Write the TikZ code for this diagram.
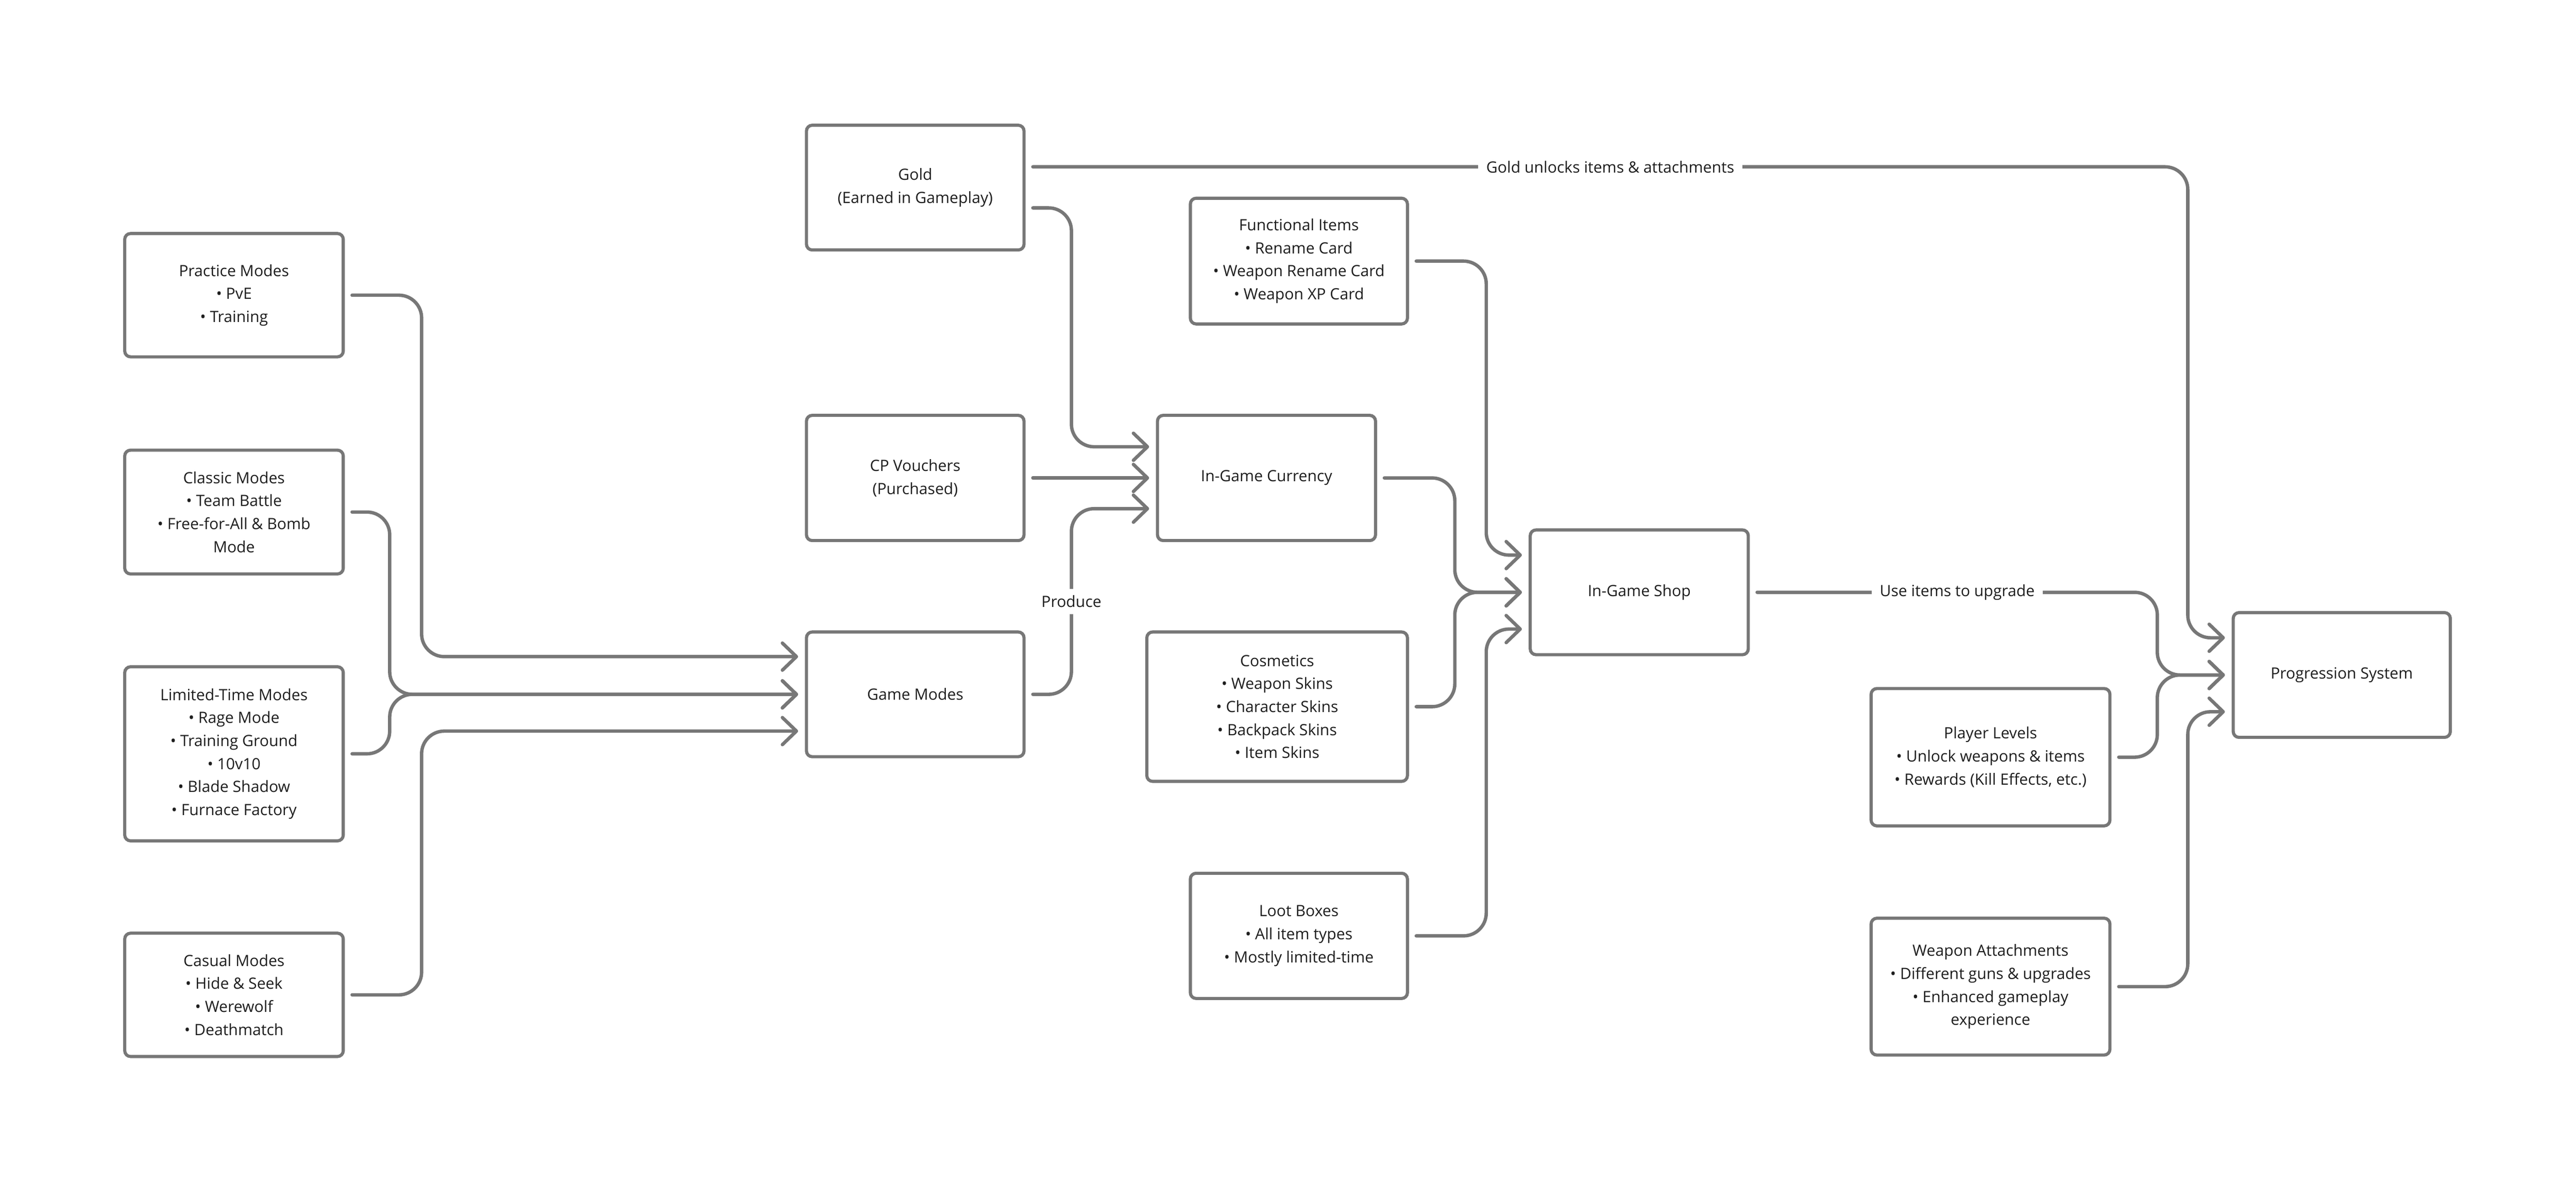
\documentclass[tikz,border=0pt]{standalone}
\usepackage{fontspec}
\setmainfont{Open Sans}
\usetikzlibrary{arrows.meta,calc}
\definecolor{lnc}{HTML}{777777}
\definecolor{txc}{HTML}{1E1E1E}
\begin{document}
\begin{tikzpicture}[x=1cm,y=-1cm,
  box/.style={draw=lnc, line width=0.065cm, rounded corners=0.12cm, fill=white,
    align=center, text=txc, inner sep=0pt,
    font=\fontsize{9.15pt}{13.55pt}\selectfont},
  conn/.style={draw=lnc, line width=0.07cm, rounded corners=0.47cm, line cap=round,
    -{Straight Barb[length=0.29cm, width=0.56cm, round]}},
  lbl/.style={fill=white, text=txc, inner xsep=0.17cm, inner ysep=0.14cm, rounded corners=0pt,
    font=\fontsize{9.15pt}{13.55pt}\selectfont}]
\useasboundingbox (0,0) rectangle (53.28,24.46);
% boxes
\node[box, minimum width=4.52cm, minimum height=2.55cm] (practice) at (4.84,6.105) {Practice Modes\\• PvE\\• Training};
\node[box, minimum width=4.52cm, minimum height=2.56cm] (classic) at (4.84,10.59) {Classic Modes\\• Team Battle\\• Free-for-All \& Bomb\\Mode};
\node[box, minimum width=4.52cm, minimum height=3.60cm] (limited) at (4.84,15.59) {Limited-Time Modes\\• Rage Mode\\• Training Ground\\• 10v10\\• Blade Shadow\\• Furnace Factory};
\node[box, minimum width=4.52cm, minimum height=2.55cm] (casual) at (4.84,20.575) {Casual Modes\\• Hide \& Seek\\• Werewolf\\• Deathmatch};
\node[box, minimum width=4.50cm, minimum height=2.58cm] (gold) at (18.93,3.88) {Gold\\(Earned in Gameplay)};
\node[box, minimum width=4.50cm, minimum height=2.59cm] (cp) at (18.93,9.885) {CP Vouchers\\(Purchased)};
\node[box, minimum width=4.50cm, minimum height=2.58cm] (gamemodes) at (18.93,14.36) {Game Modes};
\node[box, minimum width=4.49cm, minimum height=2.60cm] (functional) at (26.865,5.40) {Functional Items\\• Rename Card\\• Weapon Rename Card\\• Weapon XP Card};
\node[box, minimum width=4.51cm, minimum height=2.59cm] (currency) at (26.195,9.885) {In-Game Currency};
\node[box, minimum width=5.39cm, minimum height=3.09cm] (cosmetics) at (26.415,14.615) {Cosmetics\\• Weapon Skins\\• Character Skins\\• Backpack Skins\\• Item Skins};
\node[box, minimum width=4.49cm, minimum height=2.59cm] (loot) at (26.865,19.355) {Loot Boxes\\• All item types\\• Mostly limited-time};
\node[box, minimum width=4.51cm, minimum height=2.58cm] (shop) at (33.905,12.25) {In-Game Shop};
\node[box, minimum width=4.94cm, minimum height=2.84cm] (player) at (41.17,15.66) {Player Levels\\• Unlock weapons \& items\\• Rewards (Kill Effects, etc.)};
\node[box, minimum width=4.94cm, minimum height=2.83cm] (attach) at (41.17,20.405) {Weapon Attachments\\• Different guns \& upgrades\\• Enhanced gameplay\\experience};
\node[box, minimum width=4.49cm, minimum height=2.58cm] (prog) at (48.435,13.96) {Progression System};
% vertical guide lines
\coordinate (vL1) at (8.72,0);
\coordinate (vL2) at (8.06,0);
\coordinate (vG) at (22.16,0);
\coordinate (vS1) at (30.74,0);
\coordinate (vS2) at (30.09,0);
\coordinate (vP1) at (44.62,0);
\coordinate (vP2) at (45.25,0);
% start points
\coordinate (sPr) at ($(practice.east)+(0.15,0)$);
\coordinate (sCl) at ($(classic.east)+(0.15,0)$);
\coordinate (sLi) at ($(limited.east)+(0.15,0)$);
\coordinate (sCa) at ($(casual.east)+(0.15,0)$);
\coordinate (sGoA) at ($(gold.east)+(0.15,-0.43)$);
\coordinate (sGoB) at ($(gold.east)+(0.15,0.42)$);
\coordinate (sCp) at ($(cp.east)+(0.15,0)$);
\coordinate (sGm) at ($(gamemodes.east)+(0.15,0)$);
\coordinate (sFu) at ($(functional.east)+(0.15,0)$);
\coordinate (sCu) at ($(currency.east)+(0.15,0)$);
\coordinate (sCo) at ($(cosmetics.east)+(0.15,0)$);
\coordinate (sLo) at ($(loot.east)+(0.15,0)$);
\coordinate (sSh) at ($(shop.east)+(0.15,0)$);
\coordinate (sPl) at ($(player.east)+(0.15,0)$);
\coordinate (sAt) at ($(attach.east)+(0.15,0)$);
% end points
\coordinate (tGmA) at ($(gamemodes.west)+(-0.14,-0.78)$);
\coordinate (tGmB) at ($(gamemodes.west)+(-0.14,0)$);
\coordinate (tGmC) at ($(gamemodes.west)+(-0.14,0.76)$);
\coordinate (tCuA) at ($(currency.west)+(-0.14,-0.645)$);
\coordinate (tCuB) at ($(currency.west)+(-0.14,0)$);
\coordinate (tCuC) at ($(currency.west)+(-0.14,0.635)$);
\coordinate (tShA) at ($(shop.west)+(-0.14,-0.77)$);
\coordinate (tShB) at ($(shop.west)+(-0.14,0)$);
\coordinate (tShC) at ($(shop.west)+(-0.14,0.76)$);
\coordinate (tPrA) at ($(prog.west)+(-0.14,-0.77)$);
\coordinate (tPrB) at ($(prog.west)+(-0.14,0)$);
\coordinate (tPrC) at ($(prog.west)+(-0.14,0.76)$);
% connectors: modes -> game modes
\draw[conn] (sPr) -| (vL1 |- tGmA) -- (tGmA);
\draw[conn] (sCl) -| (vL2 |- tGmB) -- (tGmB);
\draw[conn] (sLi) -| (vL2 |- tGmB) -- (tGmB);
\draw[conn] (sCa) -| (vL1 |- tGmC) -- (tGmC);
% -> currency
\draw[conn] (sGoB) -| (vG |- tCuA) -- (tCuA);
\draw[conn] (sCp) -- (tCuB);
\draw[conn] (sGm) -| (vG |- tCuC) node[lbl, pos=0.75] {Produce} -- (tCuC);
% -> shop
\draw[conn] (sFu) -| (vS1 |- tShA) -- (tShA);
\draw[conn] (sCu) -| (vS2 |- tShB) -- (tShB);
\draw[conn] (sCo) -| (vS2 |- tShB) -- (tShB);
\draw[conn] (sLo) -| (vS1 |- tShC) -- (tShC);
% -> progression
\draw[conn] (sGoA) -| (vP2 |- tPrA) node[lbl, pos=0.25] {Gold unlocks items \& attachments} -- (tPrA);
\draw[conn] (sSh) -| (vP1 |- tPrB) node[lbl, pos=0.25] {Use items to upgrade} -- (tPrB);
\draw[conn] (sPl) -| (vP1 |- tPrB) -- (tPrB);
\draw[conn] (sAt) -| (vP2 |- tPrC) -- (tPrC);
\end{tikzpicture}
\end{document}
